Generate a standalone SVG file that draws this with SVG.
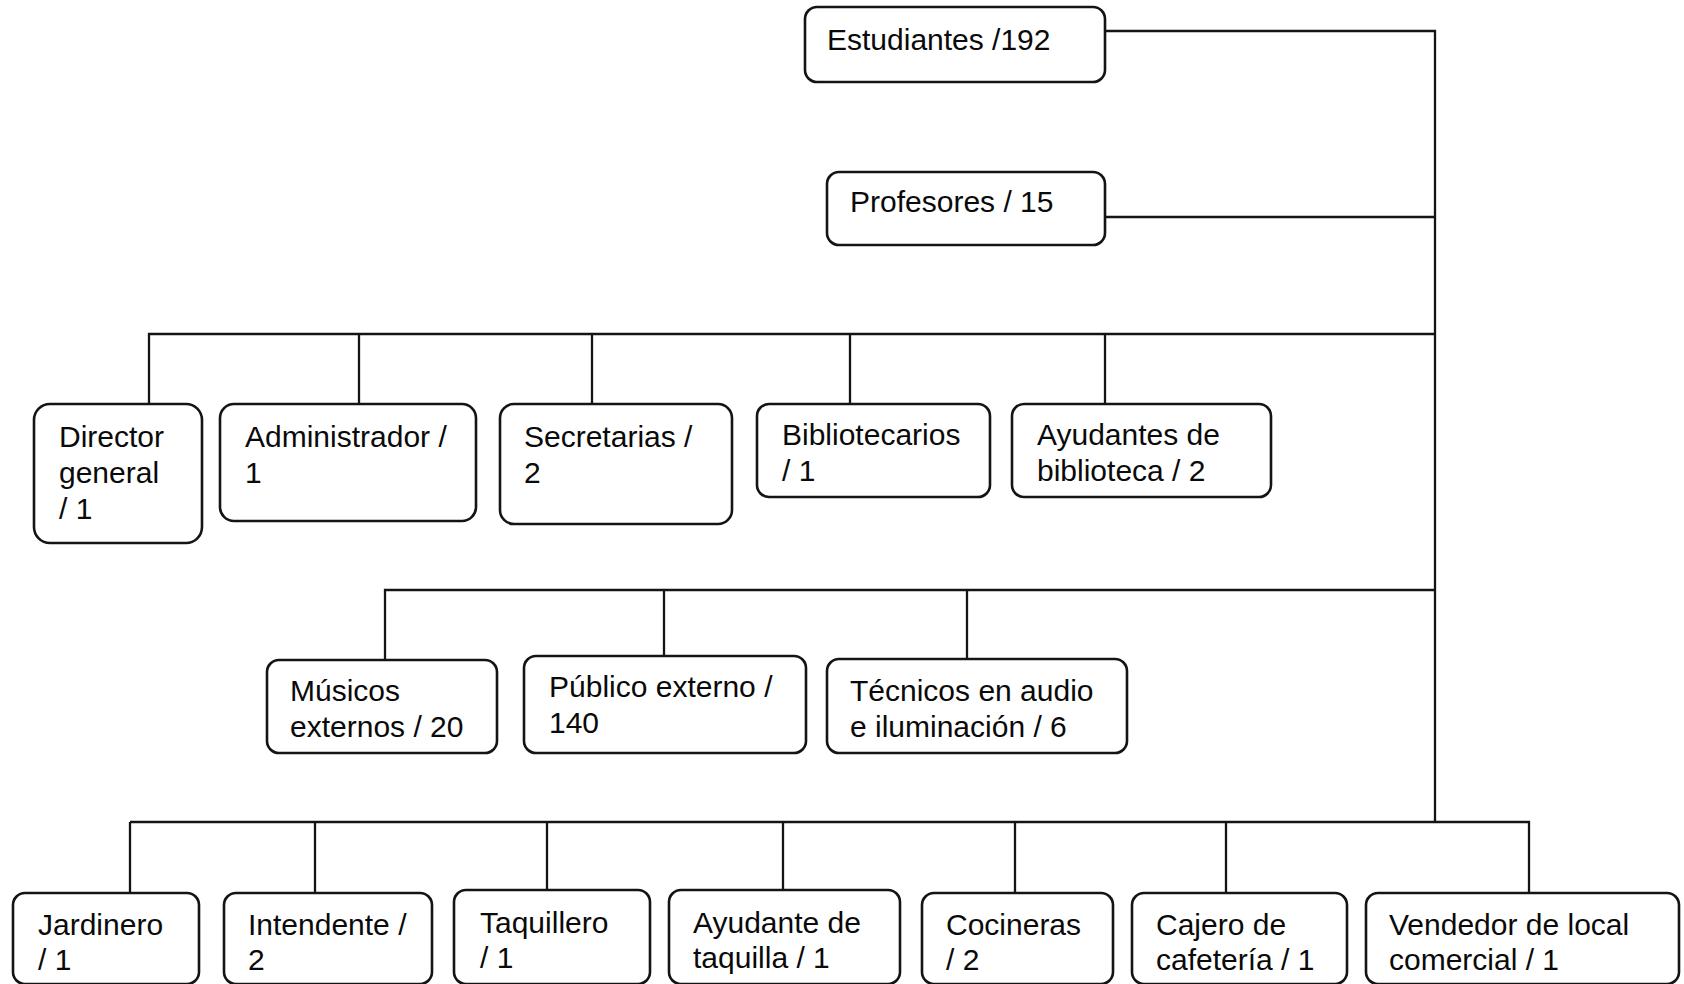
<svg xmlns="http://www.w3.org/2000/svg" width="1684" height="984" viewBox="0 0 1684 984">
  <style>
    .box { fill: #ffffff; stroke: #141414; stroke-width: 2.6; }
    .wire { fill: none; stroke: #141414; stroke-width: 2.3; }
    text { font-family: "Liberation Sans", Arial, sans-serif; font-size: 30px; fill: #0a0a0a; }
  </style>
  <rect width="1684" height="984" fill="#ffffff"/>

  <!-- connectors: trunk, buses and drops -->
  <g id="connectors">
    <path class="wire" d="M1105 31 H1435 V822"/>
    <path class="wire" d="M1105 217 H1435"/>
    <!-- row 1 bus -->
    <path class="wire" d="M1435 334 H149 V404 M359 334 V404 M592 334 V404 M850 334 V404 M1105 334 V404"/>
    <!-- row 2 bus -->
    <path class="wire" d="M1435 590 H385 V660 M664 590 V656 M967 590 V659"/>
    <!-- row 3 bus -->
    <path class="wire" d="M130 822 H1529 V893 M130 822 V893 M315 822 V893 M547 822 V890 M783 822 V890 M1015 822 V893 M1226 822 V893"/>
  </g>

  <g id="estudiantes">
    <rect class="box" x="805" y="7" width="300" height="75" rx="12"/>
    <text x="827" y="50">Estudiantes /192</text>
  </g>
  <g id="profesores">
    <rect class="box" x="827" y="172" width="278" height="73" rx="12"/>
    <text x="850" y="212">Profesores / 15</text>
  </g>

  <!-- row 1 -->
  <g id="director">
    <rect class="box" x="34" y="404" width="168" height="139" rx="16"/>
    <text x="59" y="447">Director</text>
    <text x="59" y="483">general</text>
    <text x="59" y="519">/ 1</text>
  </g>
  <g id="administrador">
    <rect class="box" x="220" y="404" width="256" height="117" rx="14"/>
    <text x="245" y="447">Administrador /</text>
    <text x="245" y="483">1</text>
  </g>
  <g id="secretarias">
    <rect class="box" x="500" y="404" width="232" height="120" rx="14"/>
    <text x="524" y="447">Secretarias /</text>
    <text x="524" y="483">2</text>
  </g>
  <g id="bibliotecarios">
    <rect class="box" x="757" y="404" width="233" height="93" rx="12"/>
    <text x="782" y="445">Bibliotecarios</text>
    <text x="782" y="481">/ 1</text>
  </g>
  <g id="ayudantes-biblioteca">
    <rect class="box" x="1012" y="404" width="259" height="93" rx="12"/>
    <text x="1037" y="445">Ayudantes de</text>
    <text x="1037" y="481">biblioteca / 2</text>
  </g>

  <!-- row 2 -->
  <g id="musicos">
    <rect class="box" x="267" y="660" width="230" height="93" rx="12"/>
    <text x="290" y="701">Músicos</text>
    <text x="290" y="737">externos / 20</text>
  </g>
  <g id="publico">
    <rect class="box" x="524" y="656" width="282" height="97" rx="12"/>
    <text x="549" y="697">Público externo /</text>
    <text x="549" y="733">140</text>
  </g>
  <g id="tecnicos">
    <rect class="box" x="827" y="659" width="300" height="94" rx="12"/>
    <text x="850" y="701">Técnicos en audio</text>
    <text x="850" y="737">e iluminación / 6</text>
  </g>

  <!-- row 3 -->
  <g id="jardinero">
    <rect class="box" x="13" y="893" width="186" height="91" rx="12"/>
    <text x="38" y="935">Jardinero</text>
    <text x="38" y="970">/ 1</text>
  </g>
  <g id="intendente">
    <rect class="box" x="224" y="893" width="208" height="91" rx="12"/>
    <text x="248" y="935">Intendente /</text>
    <text x="248" y="970">2</text>
  </g>
  <g id="taquillero">
    <rect class="box" x="454" y="890" width="196" height="94" rx="12"/>
    <text x="480" y="933">Taquillero</text>
    <text x="480" y="968">/ 1</text>
  </g>
  <g id="ayudante-taquilla">
    <rect class="box" x="669" y="890" width="231" height="94" rx="12"/>
    <text x="693" y="933">Ayudante de</text>
    <text x="693" y="968">taquilla / 1</text>
  </g>
  <g id="cocineras">
    <rect class="box" x="922" y="893" width="191" height="91" rx="12"/>
    <text x="946" y="935">Cocineras</text>
    <text x="946" y="970">/ 2</text>
  </g>
  <g id="cajero">
    <rect class="box" x="1132" y="893" width="215" height="91" rx="12"/>
    <text x="1156" y="935">Cajero de</text>
    <text x="1156" y="970">cafetería / 1</text>
  </g>
  <g id="vendedor">
    <rect class="box" x="1366" y="893" width="313" height="91" rx="12"/>
    <text x="1389" y="935">Vendedor de local</text>
    <text x="1389" y="970">comercial / 1</text>
  </g>
</svg>
